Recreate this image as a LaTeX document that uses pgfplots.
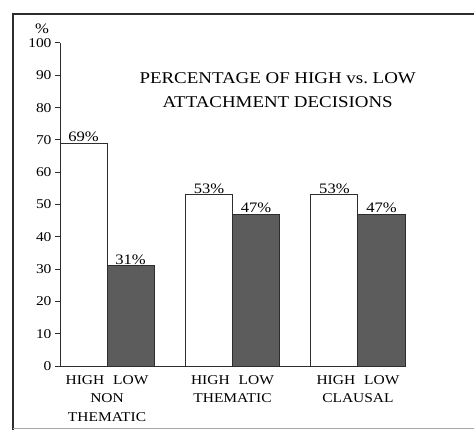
\documentclass[border=0pt]{standalone}
\usepackage{pgfplots}
\pgfplotsset{compat=1.18}
\usepackage{fontspec}
\setmainfont{Liberation Serif}[FakeStretch=1.15]
\definecolor{barDark}{RGB}{92,92,92}
\definecolor{lineDark}{RGB}{45,45,45}
\begin{document}
\begin{tikzpicture}
% picture frame, in px of the reference (axis corner at 60,366)
\useasboundingbox (-60bp,-64bp) rectangle (414bp,366bp);
\draw[line width=1.6bp, lineDark] (-47bp,-64bp) -- (-47bp,352bp) -- (414bp,352bp);
\draw[line width=0.6bp, black!35] (-47bp,-62bp) -- (414bp,-62bp);
\begin{axis}[
    scale only axis,
    width=345bp, height=323bp,
    xmin=-0.375, xmax=2.375,
    ymin=0, ymax=100,
    axis lines*=left,
    axis line style={lineDark, line width=1bp, -},
    ytick={0,10,...,100},
    tick align=outside,
    major tick length=5bp,
    ytick style={lineDark, line width=1bp},
    xtick={0,1,2},
    xtick style={draw=none},
    xticklabels={HIGH\hspace{9bp}LOW\\NON\\THEMATIC,
                 HIGH\hspace{9bp}LOW\\THEMATIC,
                 HIGH\hspace{9bp}LOW\\CLAUSAL},
    xticklabel style={align=center, font=\fontsize{13.5}{18.5}\selectfont, yshift=-1bp},
    yticklabel style={font=\fontsize{13.5}{15}\selectfont},
    /pgf/number format/assume math mode=true,
    ybar, bar width=0.375,
    clip=false,
    nodes near coords={\pgfmathprintnumber{\pgfplotspointmeta}\%},
    every node near coord/.append style={font=\fontsize{14.5}{16}\selectfont, inner sep=1bp},
]
% HIGH attachment
\addplot[bar shift=-0.1875, draw=lineDark, line width=1bp, fill=white]
    coordinates {(0,69) (1,53) (2,53)};
% LOW attachment
\addplot[bar shift=0.1875, draw=lineDark, line width=1bp, fill=barDark]
    coordinates {(0,31) (1,47) (2,47)};
\node[font=\fontsize{14.5}{16}\selectfont] at (axis cs:-0.375,104.3) [xshift=-18bp] {\%};
\node[font=\fontsize{16.5}{24}\selectfont, align=center] at (axis cs:1.36,85.5)
    {PERCENTAGE OF HIGH vs.\ LOW\\ATTACHMENT DECISIONS};
\end{axis}
\end{tikzpicture}
\end{document}
